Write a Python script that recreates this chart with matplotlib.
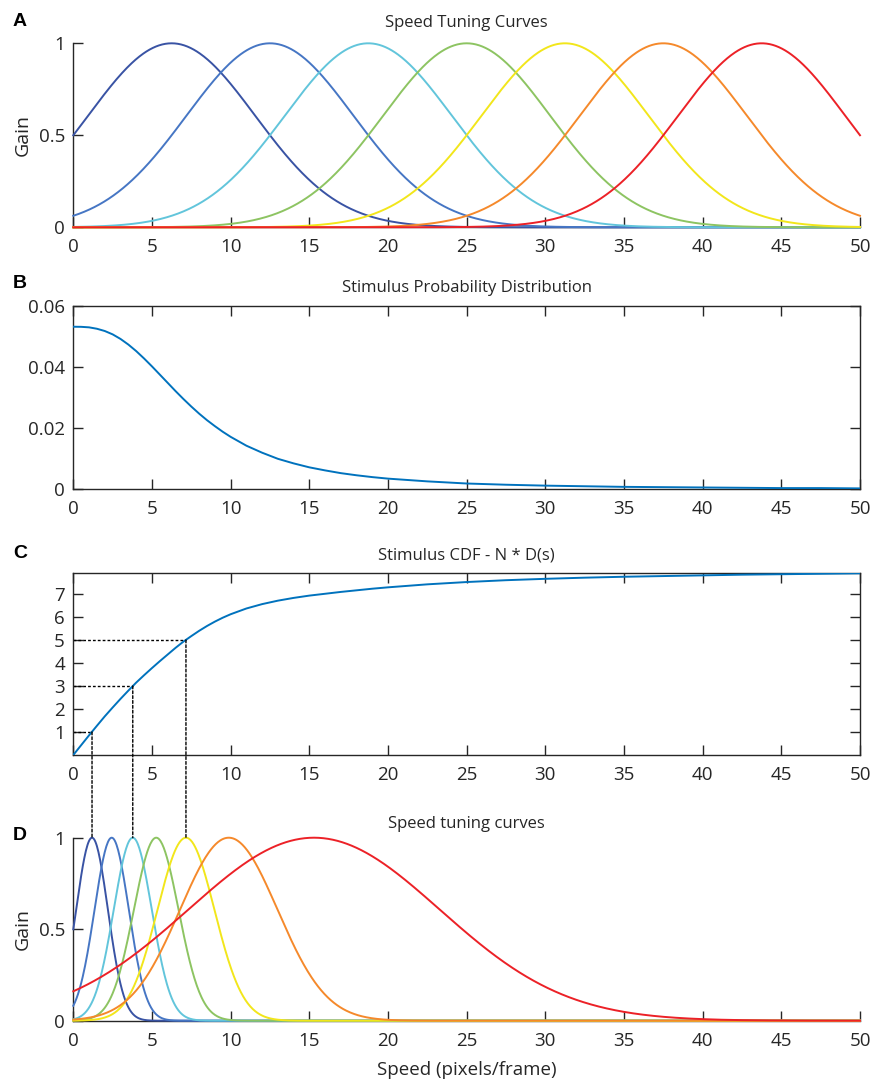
import matplotlib

matplotlib.use("Agg")
import matplotlib.pyplot as plt  # noqa: E402
import numpy as np  # noqa: E402
from matplotlib.patches import ConnectionPatch  # noqa: E402

plt.rcParams["font.family"] = ["Open Sans", "DejaVu Sans"]

INK = "#262626"
PRIOR_BLUE = "#0072BD"
CURVE_COLORS = ["#3953A4", "#4676C4", "#62C5DB", "#8DC462", "#F2E61B", "#F5892B", "#EC2127"]
SPEED_TICKS = list(range(0, 51, 5))

# A: evenly spaced gaussian tuning curves
UNIFORM_CENTERS = [6.25, 12.5, 18.75, 25.0, 31.25, 37.5, 43.75]
UNIFORM_WIDTH = 5.31

# B: stimulus prior over speed
PRIOR_SPEED = [0, 0.5, 1, 1.5, 2, 2.5, 3, 3.5, 4, 4.5, 5, 5.5, 6, 6.5, 7, 7.5, 8, 8.5,
               9, 9.5, 10, 11, 12, 13, 14, 15, 16, 17, 18, 19, 20,
               22.5, 25, 27.5, 30, 32.5, 35, 37.5, 40, 42.5, 45, 47.5, 50]
PRIOR_PROB = [0.0533, 0.05327, 0.0531, 0.05264, 0.0519, 0.0508, 0.0493, 0.04745, 0.0453,
              0.04288, 0.0403, 0.0376, 0.0349, 0.03219, 0.0296, 0.02713, 0.0248, 0.02265,
              0.0207, 0.01886, 0.0172, 0.0143, 0.0120, 0.0100, 0.0085, 0.0072, 0.0062,
              0.0053, 0.0046, 0.0040, 0.0035, 0.0026, 0.0019, 0.0015, 0.0012, 0.0010,
              0.0008, 0.0007, 0.0006, 0.0005, 0.0004, 0.0004, 0.0003]

# C: scaled cumulative distribution N * D(s)
CDF_SPEED = PRIOR_SPEED
CDF_VALUE = [0.0, 0.428, 0.855, 1.27, 1.68, 2.065, 2.44, 2.80, 3.15, 3.47, 3.78, 4.08,
             4.37, 4.66, 4.93, 5.17, 5.40, 5.61, 5.80, 5.97, 6.12, 6.37, 6.56, 6.71,
             6.83, 6.93, 7.01, 7.09, 7.16, 7.23, 7.29, 7.42, 7.52, 7.60, 7.66, 7.71,
             7.75, 7.78, 7.81, 7.84, 7.86, 7.88, 7.90]
CDF_TICKS = [1, 2, 3, 4, 5, 6, 7]

# D: tuning curves placed at equal steps of the CDF
WARPED_CENTERS = [1.19, 2.44, 3.78, 5.27, 7.16, 9.88, 15.3]
WARPED_WIDTHS = [1.01, 1.09, 1.21, 1.42, 1.81, 3.1, 8.0]
GUIDE_CURVES = [0, 2, 4]
GUIDE_LEVELS = [1, 3, 5]

W, H = 872, 1082
LEFT, RIGHT = 73.3, 860.0
TICK_SIZE = 13.5
TEXT_SIZE = 12


def _axes_rect(top_px, bottom_px):
    return [LEFT / W, 1 - bottom_px / H, (RIGHT - LEFT) / W, (bottom_px - top_px) / H]


def _style(ax, boxed):
    ax.set_xlim(0, 50)
    ax.set_xticks(SPEED_TICKS)
    ax.tick_params(direction="in", length=7, width=1.0, color=INK, labelcolor=INK,
                   labelsize=TICK_SIZE)
    ax.tick_params(axis="x", pad=8)
    ax.tick_params(axis="y", pad=6)
    if boxed:
        ax.tick_params(top=True, right=True)
    else:
        ax.spines[["top", "right"]].set_visible(False)
    for sp in ax.spines.values():
        sp.set_color(INK)
        sp.set_linewidth(1.0)


def _gauss(x, mu, sigma):
    return np.exp(-((x - mu) ** 2) / (2 * sigma ** 2))


fig = plt.figure(figsize=(W / 100, H / 100), dpi=100)
ax_a = fig.add_axes(_axes_rect(43.3, 227.3))
ax_b = fig.add_axes(_axes_rect(306.3, 489.3))
ax_c = fig.add_axes(_axes_rect(573.3, 755.0))
ax_d = fig.add_axes(_axes_rect(837.7, 1020.7))

speed = np.linspace(0, 50, 1001)

for mu, col in zip(UNIFORM_CENTERS, CURVE_COLORS):
    ax_a.plot(speed, _gauss(speed, mu, UNIFORM_WIDTH), color=col, lw=1.4, zorder=3,
              clip_on=False)
_style(ax_a, boxed=False)
ax_a.set_ylim(0, 1)
ax_a.set_yticks([0, 0.5, 1], ["0", "0.5", "1"])
ax_a.set_ylabel("Gain", fontsize=14, color=INK, labelpad=5)
ax_a.set_title("Speed Tuning Curves", fontsize=TEXT_SIZE, color=INK, pad=12)

ax_b.plot(PRIOR_SPEED, PRIOR_PROB, color=PRIOR_BLUE, lw=1.4, zorder=3)
_style(ax_b, boxed=True)
ax_b.set_ylim(0, 0.06)
ax_b.set_yticks([0, 0.02, 0.04, 0.06], ["0", "0.02", "0.04", "0.06"])
ax_b.set_title("Stimulus Probability Distribution", fontsize=TEXT_SIZE, color=INK, pad=10)

ax_c.plot(CDF_SPEED, CDF_VALUE, color=PRIOR_BLUE, lw=1.4, zorder=3)
_style(ax_c, boxed=True)
ax_c.set_ylim(0, CDF_VALUE[-1])
ax_c.set_yticks(CDF_TICKS)
ax_c.set_title("Stimulus CDF - N * D(s)", fontsize=TEXT_SIZE, color=INK, pad=10)

for mu, sig, col in zip(WARPED_CENTERS, WARPED_WIDTHS, CURVE_COLORS):
    ax_d.plot(speed, _gauss(speed, mu, sig), color=col, lw=1.4, zorder=3, clip_on=False)
_style(ax_d, boxed=False)
ax_d.set_ylim(0, 1)
ax_d.set_yticks([0, 0.5, 1], ["0", "0.5", "1"])
ax_d.set_ylabel("Gain", fontsize=14, color=INK, labelpad=5)
ax_d.set_xlabel("Speed (pixels/frame)", fontsize=13.5, color=INK, labelpad=8)
ax_d.set_title("Speed tuning curves", fontsize=TEXT_SIZE, color=INK, pad=7)

# dotted guides: CDF level -> preferred speed -> peak of the matching curve
for idx, level in zip(GUIDE_CURVES, GUIDE_LEVELS):
    s = WARPED_CENTERS[idx]
    ax_c.plot([0, s], [level, level], color="black", lw=1.0, ls=(0, (2, 1.5)), zorder=2)
    con = ConnectionPatch(xyA=(s, level), coordsA=ax_c.transData,
                          xyB=(s, 1), coordsB=ax_d.transData,
                          color="black", lw=1.0, ls=(0, (2, 1.5)))
    fig.add_artist(con)

for label, y_px in zip("ABCD", [21, 284, 554, 835]):
    fig.text(13 / W, 1 - y_px / H, label, fontsize=14, fontweight="bold",
             family=["Liberation Sans", "DejaVu Sans"], va="center", ha="left")

fig.savefig("out.png", dpi=100)
